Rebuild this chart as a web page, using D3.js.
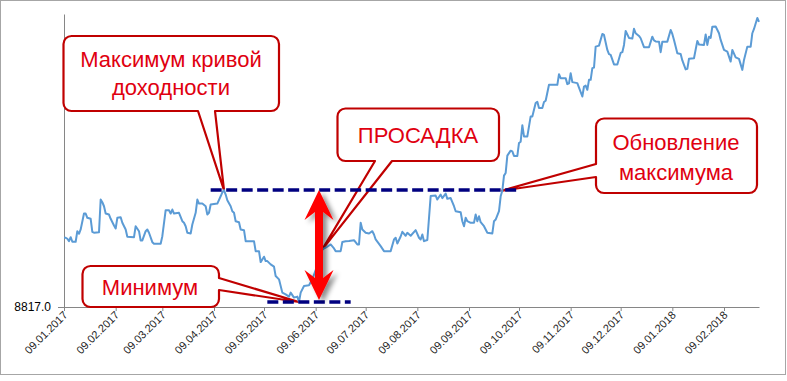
<!DOCTYPE html>
<html><head><meta charset="utf-8">
<script src="https://cdn.jsdelivr.net/npm/d3@7"></script>
<style>body{margin:0;background:#fff}svg{display:block}</style>
</head><body>
<svg id="c" width="787" height="381"></svg>
<script>
const dates = [
"2017-01-09","2017-01-10","2017-01-11","2017-01-12","2017-01-13","2017-01-14","2017-01-16","2017-01-17","2017-01-18","2017-01-19",
"2017-01-21","2017-01-22","2017-01-23","2017-01-25","2017-01-26","2017-01-27","2017-01-30","2017-01-31","2017-02-01","2017-02-02",
"2017-02-03","2017-02-05","2017-02-06","2017-02-08","2017-02-09","2017-02-10","2017-02-12","2017-02-13","2017-02-15","2017-02-16",
"2017-02-20","2017-02-21","2017-02-23","2017-02-24","2017-02-25","2017-02-27","2017-02-28","2017-03-01","2017-03-03","2017-03-04",
"2017-03-08","2017-03-09","2017-03-11","2017-03-13","2017-03-14","2017-03-15","2017-03-16","2017-03-19","2017-03-21","2017-03-22",
"2017-03-23","2017-03-24","2017-03-26","2017-03-27","2017-03-29","2017-03-30","2017-03-31","2017-04-02","2017-04-04","2017-04-05",
"2017-04-06","2017-04-07","2017-04-11","2017-04-13","2017-04-14","2017-04-15","2017-04-16","2017-04-17","2017-04-19","2017-04-20",
"2017-04-21","2017-04-22","2017-04-24","2017-04-25","2017-04-27","2017-04-28","2017-05-03","2017-05-04","2017-05-06","2017-05-07",
"2017-05-09","2017-05-10","2017-05-11","2017-05-13","2017-05-15","2017-05-16","2017-05-18","2017-05-20","2017-05-22","2017-05-24",
"2017-05-25","2017-05-27","2017-05-29","2017-05-30","2017-05-31","2017-06-02","2017-06-05","2017-06-07","2017-06-09","2017-06-12",
"2017-06-13","2017-06-15","2017-06-18","2017-06-20","2017-06-21","2017-06-24","2017-06-25","2017-06-27","2017-06-29","2017-07-02",
"2017-07-04","2017-07-05","2017-07-06","2017-07-07","2017-07-09","2017-07-11","2017-07-13","2017-07-14","2017-07-15","2017-07-18",
"2017-07-20","2017-07-24","2017-07-26","2017-07-27","2017-07-28","2017-07-30","2017-07-31","2017-08-02","2017-08-03","2017-08-05",
"2017-08-08","2017-08-10","2017-08-11","2017-08-12","2017-08-13","2017-08-15","2017-08-17","2017-08-20","2017-08-21","2017-08-23",
"2017-08-24","2017-08-26","2017-08-27","2017-08-29","2017-08-31","2017-09-01","2017-09-04","2017-09-05","2017-09-06","2017-09-07",
"2017-09-08","2017-09-10","2017-09-12","2017-09-13","2017-09-14","2017-09-15","2017-09-16","2017-09-18","2017-09-20","2017-09-23",
"2017-09-24","2017-09-25","2017-09-27","2017-09-28","2017-09-29","2017-09-30","2017-10-01","2017-10-02","2017-10-04","2017-10-05",
"2017-10-06","2017-10-08","2017-10-09","2017-10-10","2017-10-11","2017-10-12","2017-10-14","2017-10-15","2017-10-16","2017-10-17",
"2017-10-19","2017-10-20","2017-10-21","2017-10-23","2017-10-24","2017-10-25","2017-10-27","2017-11-01","2017-11-02","2017-11-03",
"2017-11-06","2017-11-07","2017-11-08","2017-11-09","2017-11-10","2017-11-13","2017-11-14","2017-11-16","2017-11-17","2017-11-18",
"2017-11-19","2017-11-20","2017-11-21","2017-11-22","2017-11-23","2017-11-24","2017-11-26","2017-11-28","2017-11-29","2017-12-01",
"2017-12-02","2017-12-03","2017-12-05","2017-12-07","2017-12-09","2017-12-10","2017-12-11","2017-12-12","2017-12-14","2017-12-16",
"2017-12-17","2017-12-18","2017-12-20","2017-12-21","2017-12-23","2017-12-26","2017-12-28","2017-12-29","2017-12-30","2018-01-01",
"2018-01-02","2018-01-03","2018-01-06","2018-01-08","2018-01-09","2018-01-10","2018-01-12","2018-01-14","2018-01-15","2018-01-17",
"2018-01-18","2018-01-19","2018-01-22","2018-01-24","2018-01-25","2018-01-28","2018-01-29","2018-01-30","2018-01-31","2018-02-01",
"2018-02-02","2018-02-04","2018-02-06","2018-02-07","2018-02-09","2018-02-11","2018-02-13","2018-02-14","2018-02-16","2018-02-18",
"2018-02-20","2018-02-21","2018-02-23","2018-02-25","2018-02-26","2018-02-27","2018-03-01","2018-03-02"];

const values = [
9997,9997,9980,9939,10007,9929,9929,10109,10065,10138,
10410,10410,10337,10320,10099,10082,10092,10648,10602,10534,
10410,10393,10320,10206,10155,10337,10347,10252,10138,10014,
10007,10194,10109,9951,9951,10109,10138,10082,9922,9895,
9895,10024,10466,10466,10410,10478,10410,10422,10279,10252,
10194,10082,10070,10223,10422,10648,10580,10580,10534,10393,
10422,10563,10580,10704,10772,10809,10733,10636,10534,10449,
10422,10279,10262,10138,10126,9939,9939,9769,9769,9582,
9674,9599,9599,9543,9504,9344,9288,9062,9033,8994,
9062,8977,8994,8902,9062,9174,9186,9288,9446,9662,
9798,9827,9883,9815,9769,9769,9925,9939,9942,9956,
9883,9883,10252,10138,10082,10070,10109,10053,9968,9854,
9769,9769,9968,9997,9900,10019,10099,10031,10082,10031,
10126,9997,9968,10053,9939,9959,10707,10716,10648,10733,
10673,10750,10660,10673,10534,10449,10432,10279,10194,10337,
10279,10252,10252,10393,10279,10364,10262,10194,10082,10070,
10279,10308,10449,10704,10801,11056,11102,11396,11481,11469,
11391,11391,11612,11634,11914,11724,11724,11894,12064,12064,
12292,12314,12207,12207,12309,12331,12603,12603,12785,12717,
12717,12615,12628,12802,12649,12632,12557,12404,12574,12591,
12518,12688,12688,12887,12897,13254,13271,13470,13453,13198,
13125,13113,12951,12951,13147,13159,13283,13521,13402,13393,
13558,13482,13436,13397,13244,13244,13424,13359,13342,13339,
13159,13339,13339,13538,13470,13368,13142,13130,13019,12866,
12875,13048,13057,13351,13291,13283,13461,13283,13424,13402,
13594,13597,13482,13368,13198,13169,12999,13198,13070,13045,
12858,13028,13254,13254,13482,13555,13742,13674];

const xTicks = ["2017-01-09","2017-02-09","2017-03-09","2017-04-09","2017-05-09","2017-06-09","2017-07-09",
  "2017-08-09","2017-09-09","2017-10-09","2017-11-09","2017-12-09","2018-01-09","2018-02-09"];
const xDomain = ["2017-01-09","2018-03-02"];
const yTicks = [8817];
const yDomain = [8817, 13810];

// annotation data
const peakDate = "2017-04-15";
const troughDate = "2017-05-30";
const maxLineDates = ["2017-04-07","2017-10-08"];
const minLineDates = ["2017-05-11","2017-06-30"];
const arrowDate = "2017-06-11";
const arrowBottomValue = 8936;
const calloutTexts = [["Максимум кривой","доходности"],["ПРОСАДКА"],["Обновление","максимума"],["Минимум"]];
const calloutTipDates = ["2017-04-15","2017-06-13","2017-09-29","2017-05-30"];

const parse = d3.timeParse("%Y-%m-%d");
const data = dates.map((d,i)=>({date:parse(d), value:values[i]}));
const valueAt = s => data.find(d=>+d.date===+parse(s)).value;

const svg = d3.select("#c");
const FONT = "'Liberation Sans', Arial, sans-serif";

svg.append("rect").attr("x",0.5).attr("y",0.5).attr("width",785).attr("height",374)
  .attr("fill","#fff").attr("stroke","#a6a6a6");

const x = d3.scaleTime().domain(xDomain.map(parse)).range([64, 759]);
const y = d3.scaleLinear().domain(yDomain).range([307, 14]);

const boxes = [
  {x0:63.5,y0:36,x1:279,y1:111,side:"bottom",base:[198,215]},
  {x0:337.5,y0:108.5,x1:499,y1:161,side:"bottom",base:[375,392]},
  {x0:596,y0:118.5,x1:757,y1:193,side:"left",base:[164,177]},
  {x0:82.5,y0:266,x1:219,y1:307,side:"right",base:[278,290]}
];
const textPos = [[171,[66.5,95]],[418,[142.5]],[676,[150,179.5]],[150,[295]]];

function calloutPath(b, t){
  const r=8; const {x0,y0,x1,y1}=b;
  let p=`M${x0+r},${y0} H${x1-r} A${r},${r} 0 0 1 ${x1},${y0+r}`;
  if(b.side==="right") p+=` V${b.base[0]} L${t[0]},${t[1]} L${x1},${b.base[1]}`;
  p+=` V${y1-r} A${r},${r} 0 0 1 ${x1-r},${y1}`;
  if(b.side==="bottom") p+=` H${b.base[1]} L${t[0]},${t[1]} L${b.base[0]},${y1}`;
  p+=` H${x0+r} A${r},${r} 0 0 1 ${x0},${y1-r}`;
  if(b.side==="left") p+=` V${b.base[1]} L${t[0]},${t[1]} L${x0},${b.base[0]}`;
  p+=` V${y0+r} A${r},${r} 0 0 1 ${x0+r},${y0} Z`;
  return p;
}

// axes
const xAxis = svg.append("g").attr("transform","translate(0,307)")
  .call(d3.axisBottom(x).tickValues(xTicks.map(parse)).tickFormat(d3.timeFormat("%d.%m.%Y")).tickSize(4).tickSizeOuter(0));
xAxis.selectAll("path,line").attr("stroke","#868686");
xAxis.selectAll("text").attr("x",0).attr("y",0).attr("dy","0.35em")
  .attr("transform","translate(1,6) rotate(-45)").attr("text-anchor","end")
  .attr("fill","#262626").style("font","11px "+FONT);

const yAxis = svg.append("g").attr("transform","translate(64,0)")
  .call(d3.axisLeft(y).tickValues(yTicks).tickFormat(d3.format(".1f")).tickSize(6).tickSizeOuter(0).tickPadding(7));
yAxis.selectAll("path,line").attr("stroke","#868686");
yAxis.selectAll("text").attr("fill","#000").style("font","12px "+FONT);

const cg = svg.append("g");
boxes.forEach((b,i)=>{
  const td = calloutTipDates[i];
  const tip=[x(parse(td)), y(valueAt(td))];
  cg.append("path").attr("d",calloutPath(b,tip)).attr("fill","#fff")
    .attr("stroke","#c00000").attr("stroke-width",2.2).attr("stroke-linejoin","round");
  calloutTexts[i].forEach((t,j)=>{
    cg.append("text").attr("x",textPos[i][0]).attr("y",textPos[i][1][j])
      .attr("text-anchor","middle").attr("fill","#e00010")
      .style("font","22px "+FONT).text(t);
  });
});

// series line
svg.append("path").datum(data)
  .attr("d", d3.line().x(d=>x(d.date)).y(d=>y(d.value)))
  .attr("fill","none").attr("stroke","#5b9bd5").attr("stroke-width",2)
  .attr("stroke-linejoin","round");

// dashed max/min lines
const vPeak = valueAt(peakDate), vTrough = valueAt(troughDate);
[[maxLineDates,vPeak],[minLineDates,vTrough]].forEach(([ds,v])=>{
  svg.append("line").attr("x1",x(parse(ds[0]))).attr("x2",x(parse(ds[1])))
    .attr("y1",y(v)).attr("y2",y(v))
    .attr("stroke","#000080").attr("stroke-width",3.5).attr("stroke-dasharray","11,4.5");
});

// red double arrow with shadow
const defs = svg.append("defs");
const f = defs.append("filter").attr("id","sh").attr("x","-50%").attr("y","-20%").attr("width","200%").attr("height","140%");
f.append("feDropShadow").attr("dx",4).attr("dy",3).attr("stdDeviation",2.5)
  .attr("flood-color","#000").attr("flood-opacity",0.45);
const cx = x(parse(arrowDate)), yT = y(vPeak), yB = y(arrowBottomValue);
const hw=14.5, hl=30, nl=22, sw=4;
const pts = [[cx,yT],[cx+hw,yT+hl],[cx+sw,yT+nl],[cx+sw,yB-nl],[cx+hw,yB-hl],[cx,yB],
  [cx-hw,yB-hl],[cx-sw,yB-nl],[cx-sw,yT+nl],[cx-hw,yT+hl]];
svg.append("path").attr("d","M"+pts.map(p=>p.join(",")).join("L")+"Z")
  .attr("fill","#ff0000").attr("filter","url(#sh)");
</script>
</body></html>
